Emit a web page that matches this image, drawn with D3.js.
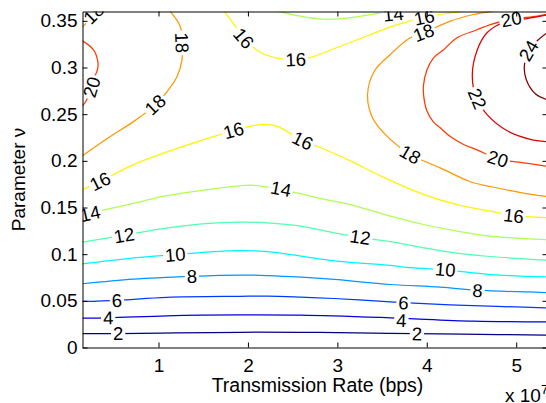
<!DOCTYPE html>
<html><head><meta charset="utf-8">
<script src="https://cdn.jsdelivr.net/npm/d3@7"></script>
<style>
body{margin:0;background:#fff}
text{font-family:"Liberation Sans",Arial,Helvetica,sans-serif;fill:#000}
</style>
</head><body>
<svg id="chart" width="546" height="403"></svg>
<script>
// ---------- data (x in units of 1e7 bps, y = parameter nu) ----------
const xTicks = [1, 2, 3, 4, 5];
const xTickLabels = ["1", "2", "3", "4", "5"];
const yTicks = [0, 0.05, 0.1, 0.15, 0.2, 0.25, 0.3, 0.35];
const yTickLabels = ["0", "0.05", "0.1", "0.15", "0.2", "0.25", "0.3", "0.35"];
const levels = [2, 4, 6, 8, 10, 12, 14, 16, 18, 20, 22, 24];

const c2 = [[0.15,0.0150],[0.549,0.0150],[1.2,0.0157],[1.914,0.0163],[2.585,0.0163],[3.0,0.0160],[3.592,0.0152],[4.4,0.0142],[5.36,0.0133]];
const c4 = [[0.15,0.0315],[0.441,0.0318],[1.094,0.0340],[1.914,0.0350],[2.593,0.0347],[3.592,0.0318],[4.523,0.0283],[5.36,0.0275]];
const c6 = [[0.15,0.0493],[0.535,0.0506],[1.094,0.0538],[1.914,0.0549],[2.219,0.0551],[2.593,0.0540],[2.965,0.0525],[3.592,0.0490],[3.74,0.0480],[4.338,0.0454],[5.36,0.0425]];
const c8 = [[0.15,0.0683],[0.72,0.0733],[1.374,0.0763],[1.914,0.0776],[2.219,0.0771],[2.593,0.0754],[2.965,0.0729],[3.592,0.0675],[4.151,0.0647],[4.568,0.0614],[5.36,0.0588]];
const c10 = [[0.15,0.0897],[0.683,0.0956],[1.187,0.0995],[1.578,0.1025],[1.914,0.1038],[2.219,0.1027],[2.593,0.0979],[2.965,0.0928],[3.592,0.0880],[3.74,0.0862],[4.207,0.0832],[4.71,0.0782],[5.36,0.0755]];
const c12 = [[0.15,0.1129],[0.605,0.1202],[1.086,0.1279],[1.522,0.1328],[1.914,0.1344],[2.219,0.1336],[2.593,0.1301],[2.965,0.1229],[3.256,0.1180],[3.592,0.1135],[3.964,0.1068],[4.338,0.1010],[4.71,0.0975],[5.36,0.0935]];
const c14a = [[0.15,0.1422],[0.497,0.1497],[0.795,0.1561],[1.056,0.1620],[1.43,0.1676],[1.869,0.1729],[2.07,0.1738],[2.369,0.1695],[2.778,0.1604],[3.152,0.1529],[3.592,0.1408],[3.964,0.1318],[4.338,0.1247],[4.71,0.1194],[5.36,0.1155]];
const c14b = [[2.34,0.3605],[2.585,0.3550],[2.853,0.3517],[3.077,0.3527],[3.334,0.3560],[3.536,0.3592],[3.66,0.3605]];
const c16a = [[0.15,0.1690],[0.348,0.1780],[0.72,0.1960],[1.168,0.2120],[1.615,0.2260],[1.839,0.2325],[2.0,0.2365],[2.175,0.2390],[2.331,0.2370],[2.611,0.2215],[2.817,0.2140],[3.152,0.1997],[3.488,0.1836],[3.964,0.1640],[4.338,0.1530],[4.71,0.1460],[4.968,0.1415],[5.36,0.1390]];
const c16b = [[1.72,0.3620],[1.847,0.3460],[1.951,0.3315],[2.145,0.3160],[2.331,0.3100],[2.535,0.3085],[2.705,0.3110],[3.04,0.3230],[3.338,0.3340],[3.592,0.3436],[3.815,0.3500],[3.964,0.3535],[4.263,0.3586],[4.4,0.3605]];
const c18a = [[0.15,0.2055],[0.46,0.2260],[0.72,0.2420],[0.963,0.2600],[1.094,0.2740],[1.206,0.2900],[1.262,0.3080],[1.265,0.3260],[1.243,0.3440],[1.12,0.3615]];
const c18b = [[0.15,0.3435],[0.35,0.3625]];
const c18c = [[4.74,0.3605],[4.523,0.3568],[4.263,0.3497],[3.964,0.3372],[3.815,0.3318],[3.592,0.3140],[3.413,0.2960],[3.338,0.2710],[3.394,0.2460],[3.592,0.2230],[3.815,0.2068],[4.15,0.1925],[4.487,0.1776],[4.71,0.1725],[5.083,0.1655],[5.36,0.1615]];
const c20a = [[0.15,0.3285],[0.273,0.3190],[0.322,0.3060],[0.318,0.2980],[0.273,0.2870],[0.206,0.2670],[0.15,0.2585]];
const c20b = [[5.36,0.3575],[5.233,0.3550],[4.945,0.3517],[4.71,0.3460],[4.562,0.3404],[4.338,0.3318],[4.188,0.3190],[4.076,0.3104],[4.002,0.2976],[3.964,0.2815],[3.964,0.2710],[4.002,0.2533],[4.073,0.2418],[4.151,0.2354],[4.263,0.2260],[4.412,0.2175],[4.562,0.2118],[4.794,0.2022],[5.083,0.1977],[5.36,0.1941]];
const c22 = [[5.36,0.3565],[5.102,0.3520],[4.88,0.3490],[4.673,0.3372],[4.565,0.3190],[4.509,0.2922],[4.554,0.2675],[4.677,0.2493],[4.9,0.2322],[5.157,0.2231],[5.36,0.2204]];
const c24 = [[5.36,0.3383],[5.225,0.3276],[5.136,0.3168],[5.091,0.3018],[5.113,0.2868],[5.214,0.2718],[5.36,0.2649]];

const lineLevels = [2, 4, 6, 8, 10, 12, 14, 14, 16, 16, 18, 18, 18, 20, 20, 22, 24];
const linePoints = [c2, c4, c6, c8, c10, c12, c14a, c14b, c16a, c16b, c18a, c18b, c18c, c20a, c20b, c22, c24];

const labelLevels = [2,2,4,4,6,6,8,8,10,10,12,12,14,14,14,16,16,16,16,16,16,16,18,18,18,18,18,20,20,20,22,24];
const labelX = [0.549,3.89,0.437,3.715,0.535,3.74,1.374,4.568,1.187,4.207,0.616,3.256,0.235,2.369,3.625,0.348,1.839,2.611,4.971,1.953,2.535,3.972,0.963,1.262,3.964,3.815,0.275,0.253,4.945,4.794,4.565,5.139];
const labelY = [0.0149,0.0147,0.0316,0.0290,0.0502,0.0478,0.0763,0.0610,0.0995,0.0835,0.1202,0.1182,0.1435,0.1700,0.3570,0.1780,0.2325,0.2215,0.1412,0.3313,0.3085,0.3538,0.2600,0.3265,0.3372,0.2068,0.3576,0.2790,0.3517,0.2022,0.2665,0.3180];

// ---------- drawing ----------
const W = 546, H = 403;
const L = 82.5, R = 547.5, T = 11.5, B = 347.5;
const svg = d3.select("#chart");
const x = d3.scaleLinear().domain([0.15, 5.35]).range([L, R]);
const y = d3.scaleLinear().domain([0, 0.36]).range([B, T]);

const jetPos = d3.scaleLinear().domain([d3.min(levels), d3.max(levels)]).range([0, 1]);
function jet(v) {
  const t = jetPos(v);
  const c = f => Math.max(0, Math.min(1, 1.5 - Math.abs(4 * t - f))) * 255;
  return d3.rgb(c(3), c(2), c(1)).formatHex();
}

const defs = svg.append("defs");
defs.append("clipPath").attr("id", "clip")
  .append("rect").attr("x", L).attr("y", T).attr("width", R - L).attr("height", B - T);
const mask = defs.append("mask").attr("id", "gaps")
  .attr("maskUnits", "userSpaceOnUse").attr("x", 0).attr("y", 0).attr("width", W).attr("height", H);
mask.append("rect").attr("x", 0).attr("y", 0).attr("width", W).attr("height", H).attr("fill", "white");

const clipG = svg.append("g").attr("clip-path", "url(#clip)");
const linesG = clipG.append("g").attr("mask", "url(#gaps)");
const line = d3.line().x(d => x(d[0])).y(d => y(d[1])).curve(d3.curveCatmullRom.alpha(0.5));

const paths = linePoints.map((pts, i) => {
  const p = linesG.append("path").attr("d", line(pts))
    .attr("fill", "none").attr("stroke", jet(lineLevels[i])).attr("stroke-width", 1.25);
  return { level: lineLevels[i], node: p.node() };
});

function tangentAngle(level, px, py) {
  let best = null;
  paths.filter(p => p.level === level).forEach(p => {
    const len = p.node.getTotalLength();
    for (let s = 0; s <= len; s += 1) {
      const q = p.node.getPointAtLength(s);
      const d = (q.x - px) ** 2 + (q.y - py) ** 2;
      if (!best || d < best.d) best = { d, s, node: p.node, len };
    }
  });
  if (!best) return 0;
  const a = best.node.getPointAtLength(Math.max(0, best.s - 5));
  const b = best.node.getPointAtLength(Math.min(best.len, best.s + 5));
  let ang = Math.atan2(b.y - a.y, b.x - a.x) * 180 / Math.PI;
  if (ang > 90) ang -= 180;
  if (ang <= -90) ang += 180;
  return ang;
}

const labelG = clipG.append("g");
labelLevels.forEach((lv, i) => {
  const px = x(labelX[i]), py = y(labelY[i]);
  const ang = tangentAngle(lv, px, py);
  const tr = `translate(${px},${py}) rotate(${ang})`;
  const t = labelG.append("text").attr("transform", tr)
    .attr("text-anchor", "middle").attr("dy", "0.35em")
    .attr("font-size", 18.5).text(String(lv));
  const bb = t.node().getBBox();
  mask.append("rect").attr("transform", tr)
    .attr("x", bb.x - 2).attr("y", -8.5).attr("width", bb.width + 4).attr("height", 17)
    .attr("fill", "black");
});

// axes (MATLAB style box, inward ticks)
function styleAxis(g) {
  g.selectAll("path.domain").attr("stroke", "#000").attr("stroke-width", 1);
  g.selectAll(".tick line").attr("stroke", "#000").attr("stroke-width", 1);
  g.selectAll(".tick text").attr("font-size", 19).attr("font-family", "Liberation Sans, Arial, sans-serif").attr("fill", "#000");
}
svg.append("g").attr("transform", `translate(0,${B})`)
  .call(d3.axisBottom(x).tickValues(xTicks).tickFormat((d, i) => xTickLabels[i]).tickSize(-5).tickSizeOuter(0).tickPadding(11.5))
  .call(styleAxis);
svg.append("g").attr("transform", `translate(0,${T})`)
  .call(d3.axisTop(x).tickValues(xTicks).tickFormat("").tickSize(-5).tickSizeOuter(0))
  .call(styleAxis);
svg.append("g").attr("transform", `translate(${L},0)`)
  .call(d3.axisLeft(y).tickValues(yTicks).tickFormat((d, i) => yTickLabels[i]).tickSize(-5).tickSizeOuter(0).tickPadding(5))
  .call(styleAxis);
svg.append("g").attr("transform", `translate(${R},0)`)
  .call(d3.axisRight(y).tickValues(yTicks).tickFormat("").tickSize(-5).tickSizeOuter(0))
  .call(styleAxis);

svg.append("text").attr("x", 317.5).attr("y", 392).attr("text-anchor", "middle")
  .attr("font-size", 19.5).text("Transmission Rate (bps)");
svg.append("text").attr("transform", `translate(24.5,${(T + B) / 2}) rotate(-90)`)
  .attr("text-anchor", "middle").attr("font-size", 19).text("Parameter ν");
const ex = svg.append("text").attr("x", 505).attr("y", 401.5).attr("font-size", 19);
ex.append("tspan").text("x 10");
ex.append("tspan").attr("font-size", 13).attr("dy", -8).text("7");
</script>
</body></html>
